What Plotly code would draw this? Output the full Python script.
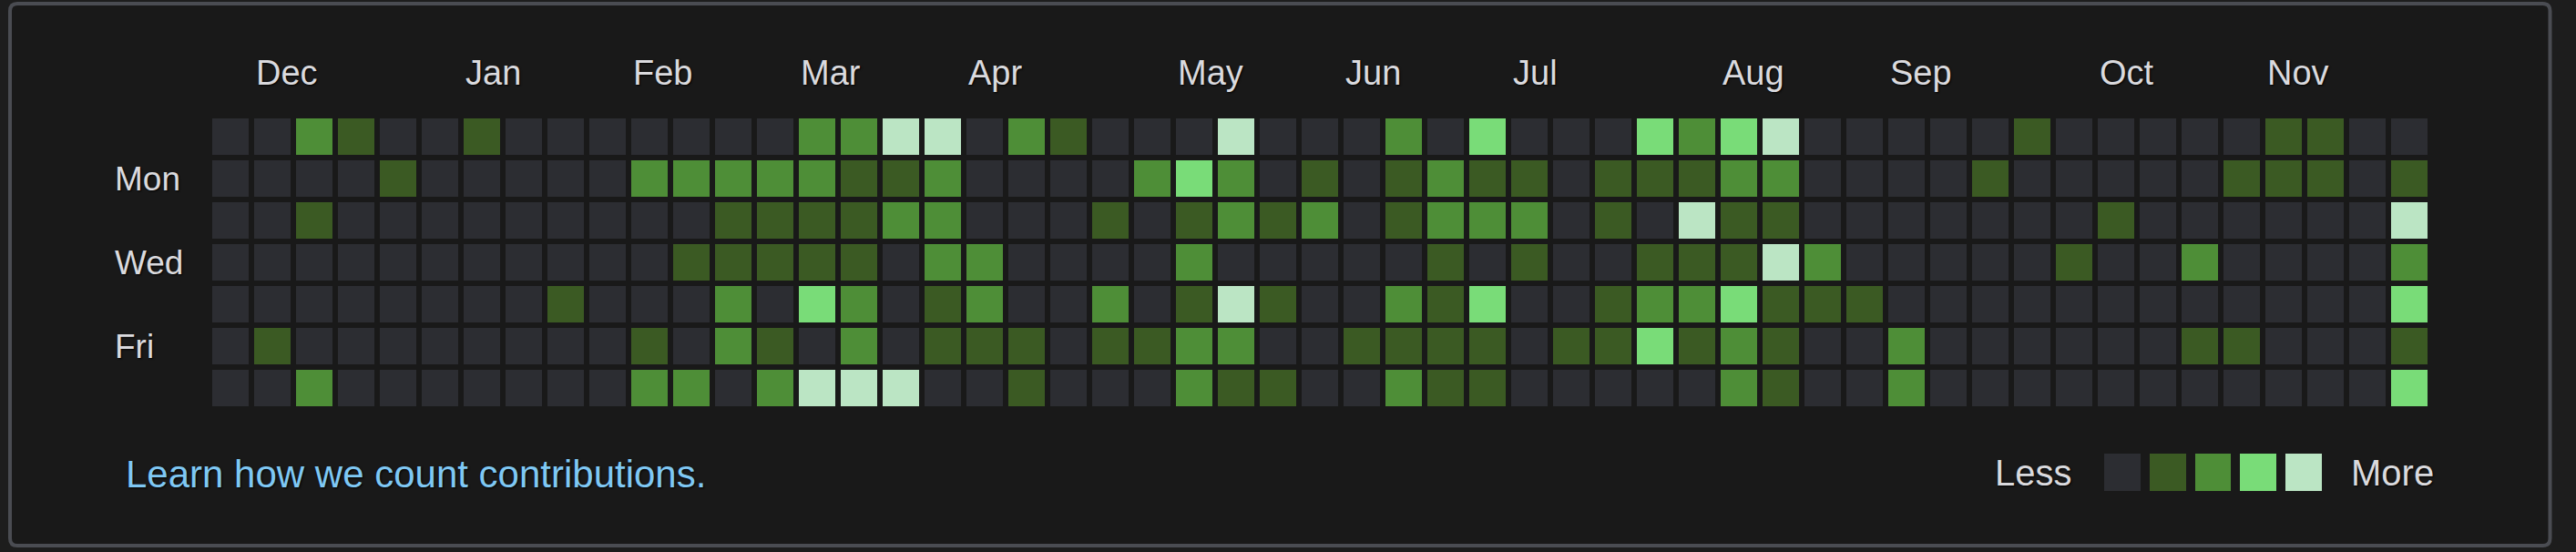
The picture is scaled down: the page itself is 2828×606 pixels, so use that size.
import plotly.graph_objects as go

# ---------------- data ----------------
months = ["Dec", "Jan", "Feb", "Mar", "Apr", "May", "Jun", "Jul", "Aug", "Sep", "Oct", "Nov"]
month_cols = [1, 6, 10, 14, 18, 23, 27, 31, 36, 40, 45, 49]
weekday_labels = ["Mon", "Wed", "Fri"]
weekday_rows = [1, 3, 5]
legend_levels = [0, 1, 2, 3, 4]

sun = [0,0,2,1,0,0,1,0,0,0,0,0,0,0,2,2,4,4,0,2,1,0,0,0,4,0,0,0,2,0,3,0,0,0,3,2,3,4,0,0,0,0,0,1,0,0,0,0,0,1,1,0,0]
mon = [0,0,0,0,1,0,0,0,0,0,2,2,2,2,2,1,1,2,0,0,0,0,2,3,2,0,1,0,1,2,1,1,0,1,1,1,2,2,0,0,0,0,1,0,0,0,0,0,1,1,1,0,1]
tue = [0,0,1,0,0,0,0,0,0,0,0,0,1,1,1,1,2,2,0,0,0,1,0,1,2,1,2,0,1,2,2,2,0,1,0,4,1,1,0,0,0,0,0,0,0,1,0,0,0,0,0,0,4]
wed = [0,0,0,0,0,0,0,0,0,0,0,1,1,1,1,1,0,2,2,0,0,0,0,2,0,0,0,0,0,1,0,1,0,0,1,1,1,4,2,0,0,0,0,0,1,0,0,2,0,0,0,0,2]
thu = [0,0,0,0,0,0,0,0,1,0,0,0,2,0,3,2,0,1,2,0,0,2,0,1,4,1,0,0,2,1,3,0,0,1,2,2,3,1,1,1,0,0,0,0,0,0,0,0,0,0,0,0,3]
fri = [0,1,0,0,0,0,0,0,0,0,1,0,2,1,0,2,0,1,1,1,0,1,1,2,2,0,0,1,1,1,1,0,1,1,3,1,2,1,0,0,2,0,0,0,0,0,0,1,1,0,0,0,1]
sat = [0,0,2,0,0,0,0,0,0,0,2,2,0,2,4,4,4,0,0,1,0,0,0,2,1,1,0,0,2,1,1,0,0,0,0,0,2,1,0,0,2,0,0,0,0,0,0,0,0,0,0,0,3]

grid = [sun, mon, tue, wed, thu, fri, sat]

# ---------------- style ----------------
W, H = 2828, 606
level_colors = ["#2c2d32", "#3b5a23", "#4e8e37", "#79dc78", "#bbe5c4"]
colorscale = []
for i, c in enumerate(level_colors):
    colorscale.append([i / 5, c])
    colorscale.append([(i + 1) / 5, c])

FONT = "Liberation Sans, Arial, Helvetica, sans-serif"
TEXT = "#dadade"
SHADOW = "1px 1px 2px #000000"

def px_x(p):
    return p / W

def px_y(p):
    return 1 - p / H

ncols = len(sun)
pitch = 46
grid_left = 230  # pixel where column -0.5 lies
grid_top = 127

fig = go.Figure()

fig.add_trace(go.Heatmap(
    z=grid,
    x=list(range(ncols)),
    y=list(range(7)),
    colorscale=colorscale,
    zmin=-0.5, zmax=4.5,
    xgap=6, ygap=6,
    showscale=False,
    hoverinfo="skip",
    xaxis="x", yaxis="y",
))

# legend squares
fig.add_trace(go.Heatmap(
    z=[legend_levels],
    x=list(range(len(legend_levels))),
    y=[0],
    colorscale=colorscale,
    zmin=-0.5, zmax=4.5,
    xgap=10, ygap=0,
    showscale=False,
    hoverinfo="skip",
    xaxis="x2", yaxis="y2",
))

annotations = []
for m, c in zip(months, month_cols):
    annotations.append(dict(
        text=m, x=c - 0.5 + 3 / pitch, y=px_y(80), xref="x", yref="paper",
        xanchor="left", yanchor="middle", showarrow=False,
        font=dict(family=FONT, size=38, color=TEXT, shadow=SHADOW),
    ))
for d, r in zip(weekday_labels, weekday_rows):
    annotations.append(dict(
        text=d, x=px_x(124), y=r, xref="paper", yref="y",
        xanchor="left", yanchor="middle", showarrow=False,
        font=dict(family=FONT, size=37, color=TEXT, shadow=SHADOW),
    ))
annotations.append(dict(
    text="Learn how we count contributions.", x=px_x(136), y=px_y(520),
    xref="paper", yref="paper", xanchor="left", yanchor="middle", showarrow=False,
    font=dict(family=FONT, size=42, color="#7fc8f4", shadow=SHADOW),
))
annotations.append(dict(
    text="Less", x=px_x(2277), y=px_y(519), xref="paper", yref="paper",
    xanchor="right", yanchor="middle", showarrow=False,
    font=dict(family=FONT, size=40, color=TEXT, shadow=SHADOW),
))
annotations.append(dict(
    text="More", x=px_x(2579), y=px_y(519), xref="paper", yref="paper",
    xanchor="left", yanchor="middle", showarrow=False,
    font=dict(family=FONT, size=40, color=TEXT, shadow=SHADOW),
))

# rounded border box
x0, x1 = px_x(11), px_x(2799.5)
y0, y1 = px_y(599), px_y(4)
rx, ry = 8 / W, 8 / H
path = (f"M {x0+rx},{y1} L {x1-rx},{y1} Q {x1},{y1} {x1},{y1-ry} "
        f"L {x1},{y0+ry} Q {x1},{y0} {x1-rx},{y0} L {x0+rx},{y0} "
        f"Q {x0},{y0} {x0},{y0+ry} L {x0},{y1-ry} Q {x0},{y1} {x0+rx},{y1} Z")

fig.update_layout(
    width=W, height=H,
    margin=dict(l=0, r=0, t=0, b=0, pad=0),
    paper_bgcolor="#1d1d1d",
    plot_bgcolor="rgba(0,0,0,0)",
    showlegend=False,
    xaxis=dict(domain=[px_x(grid_left), px_x(grid_left + ncols * pitch)],
               range=[-0.5, ncols - 0.5], visible=False, fixedrange=True),
    yaxis=dict(domain=[px_y(grid_top + 7 * pitch), px_y(grid_top)],
               range=[6.5, -0.5], visible=False, fixedrange=True),
    xaxis2=dict(domain=[px_x(2305), px_x(2554)], range=[-0.5, 4.5],
                visible=False, fixedrange=True, anchor="y2"),
    yaxis2=dict(domain=[px_y(539), px_y(498)], range=[-0.5, 0.5],
                visible=False, fixedrange=True, anchor="x2"),
    annotations=annotations,
    shapes=[dict(type="path", path=path, xref="paper", yref="paper",
                 fillcolor="#191919", line=dict(color="#4a4c52", width=4),
                 layer="below")],
)

fig.write_html("out.html", config={"displayModeBar": False},
               post_script="document.body.style.margin='0';document.body.style.overflow='hidden';")
